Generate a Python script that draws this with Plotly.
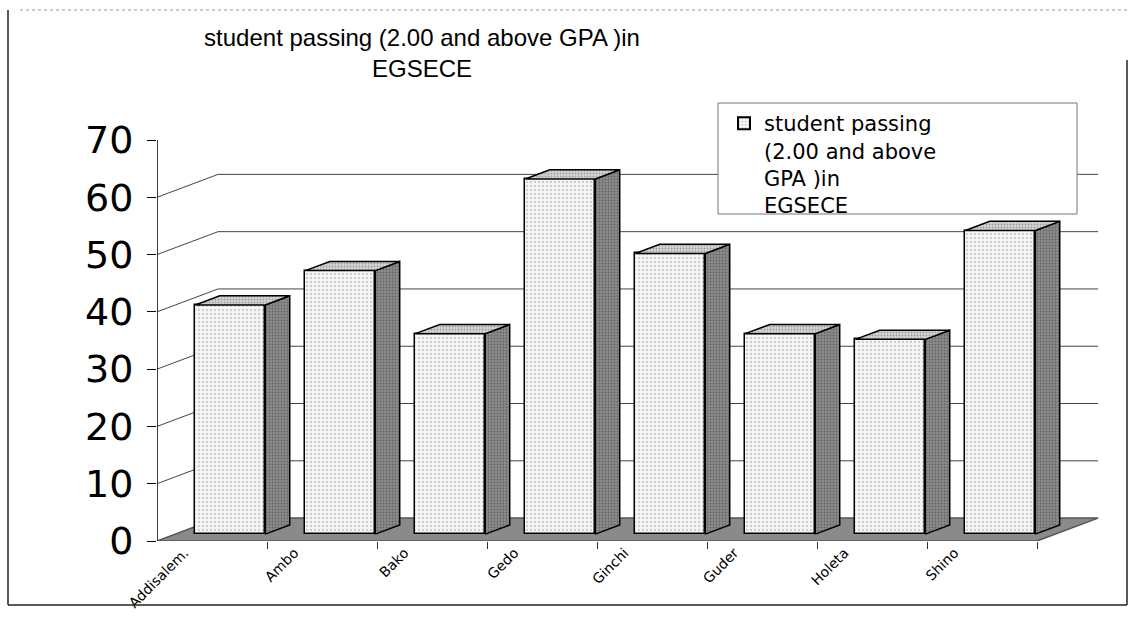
import plotly.graph_objects as go

# ---- data ----
categories = ["Addisalem.", "Ambo", "Bako", "Gedo", "Ginchi", "Guder", "Holeta", "Shino"]
values = [40, 46, 35, 62, 49, 35, 34, 53]
series_name = "student passing<br>(2.00 and above<br>GPA )in<br>EGSECE"
title_text = "student passing (2.00 and above GPA )in<br>EGSECE"
y_ticks = [0, 10, 20, 30, 40, 50, 60, 70]
grid_levels = [10, 20, 30, 40, 50, 60]

# ---- pseudo-3D geometry (axis units) ----
DX, DY = 0.555, 4.0          # full depth offset of floor / walls
F0, F1 = 0.3, 0.7            # bar front / back depth fractions
BW = 0.636                   # bar width
W, H = 1136, 620
ML, MR, MT, MB = 157, 36, 100, 79
PW, PH = W - ML - MR, H - MT - MB
XMIN = -0.5
XMAX = XMIN + PW / 110.0
YMAX = PH / (401.0 / 70.0)
n = len(categories)

fig = go.Figure()

# front faces of bars (bar trace)
x_front = [i + F0 * DX for i in range(n)]
base0 = F0 * DY
fig.add_trace(go.Bar(
    x=x_front, y=values, base=[base0] * n, width=BW,
    name=series_name, showlegend=True,
    marker=dict(color="#f2f2f2", line=dict(color="black", width=1.5),
                pattern=dict(shape=".", fgcolor="#8a8a8a", bgcolor="#f4f4f4",
                             size=4, solidity=0.18)),
    hoverinfo="skip",
))

ddx = (F1 - F0) * DX
ddy = (F1 - F0) * DY
for i, v in enumerate(values):
    xl = x_front[i] - BW / 2
    xr = x_front[i] + BW / 2
    top = base0 + v
    # side face
    fig.add_trace(go.Scatter(
        x=[xr, xr + ddx, xr + ddx, xr, xr],
        y=[base0, base0 + ddy, top + ddy, top, base0],
        mode="lines", fill="toself", fillcolor="#7d7d7d",
        fillpattern=dict(shape=".", fgcolor="#3a3a3a", bgcolor="#8c8c8c",
                         size=3, solidity=0.3),
        line=dict(color="black", width=1.5), showlegend=False, hoverinfo="skip"))
    # top face
    fig.add_trace(go.Scatter(
        x=[xl, xr, xr + ddx, xl + ddx, xl],
        y=[top, top, top + ddy, top + ddy, top],
        mode="lines", fill="toself", fillcolor="#cfcfcf",
        fillpattern=dict(shape=".", fgcolor="#606060", bgcolor="#d6d6d6",
                         size=3, solidity=0.3),
        line=dict(color="black", width=1.5), showlegend=False, hoverinfo="skip"))

shapes = []
# floor
floor_x = [XMIN, n - 0.5, n - 0.5 + DX, XMIN + DX]
floor_y = [0, 0, DY, DY]
path = "M " + " L ".join(f"{a},{b}" for a, b in zip(floor_x, floor_y)) + " Z"
shapes.append(dict(type="path", path=path, xref="x", yref="y", layer="below",
                   fillcolor="#8a8a8a", line=dict(color="#555555", width=1.5)))
# walls gridlines
for t in grid_levels:
    shapes.append(dict(type="line", xref="x", yref="y", layer="below",
                       x0=XMIN, y0=t, x1=XMIN + DX, y1=t + DY,
                       line=dict(color="#444444", width=1)))
    shapes.append(dict(type="line", xref="x", yref="y", layer="below",
                       x0=XMIN + DX, y0=t + DY, x1=n - 0.5 + DX, y1=t + DY,
                       line=dict(color="#444444", width=1)))
# value axis line (0 .. top tick)
shapes.append(dict(type="line", xref="x", yref="y", x0=XMIN, y0=0, x1=XMIN, y1=y_ticks[-1],
                   line=dict(color="black", width=1.5)))

# outer frame
def xp(px):
    return (px - ML) / PW

def yp(py):
    return (H - MB - py) / PH

shapes += [
    dict(type="line", xref="paper", yref="paper", x0=xp(8), y0=yp(10), x1=xp(8), y1=yp(605),
         line=dict(color="#222222", width=1.5)),
    dict(type="line", xref="paper", yref="paper", x0=xp(8), y0=yp(605), x1=xp(1127), y1=yp(605),
         line=dict(color="#222222", width=1.5)),
    dict(type="line", xref="paper", yref="paper", x0=xp(1127), y0=yp(60), x1=xp(1127), y1=yp(605),
         line=dict(color="#222222", width=1.5)),
    dict(type="line", xref="paper", yref="paper", x0=xp(20), y0=yp(10), x1=xp(1130), y1=yp(10),
         line=dict(color="#999999", width=1, dash="dot")),
    # legend box
    dict(type="rect", xref="paper", yref="paper", x0=xp(718), y0=yp(103), x1=xp(1077), y1=yp(214),
         fillcolor="white", line=dict(color="#777777", width=1), layer="above"),
]

fig.update_layout(
    width=W, height=H,
    margin=dict(l=ML, r=MR, t=MT, b=MB, autoexpand=False),
    paper_bgcolor="white", plot_bgcolor="white",
    shapes=shapes,
    title=dict(text=title_text, xref="container", yref="container",
               x=422 / W, xanchor="center", y=1 - 46 / H, yanchor="top",
               font=dict(family="Liberation Sans", size=24, color="black")),
    legend=dict(xref="container", yref="container", x=724 / W, y=1 - 103 / H,
                xanchor="left", yanchor="top", bgcolor="rgba(0,0,0,0)",
                borderwidth=0, valign="top",
                font=dict(family="DejaVu Sans", size=21, color="black"),
                itemsizing="constant"),
    xaxis=dict(range=[XMIN, XMAX], showgrid=False, zeroline=False, showline=False,
               tickmode="array", tickvals=[i - 0.25 for i in range(n)], ticktext=categories,
               ticks="", tickangle=-45,
               tickfont=dict(family="DejaVu Sans", size=14, color="black"),
               minor=dict(tickvals=[i + 0.5 for i in range(n)], ticks="outside",
                          ticklen=7, tickcolor="#333333", tickwidth=1)),
    yaxis=dict(range=[0, YMAX], showgrid=False, zeroline=False, showline=False,
               tickmode="array", tickvals=y_ticks, ticks="outside", ticklen=9,
               tickcolor="black", ticklabelstandoff=6,
               tickfont=dict(family="DejaVu Sans", size=38, color="black")),
    bargap=0,
)

fig.write_html("out.html")
